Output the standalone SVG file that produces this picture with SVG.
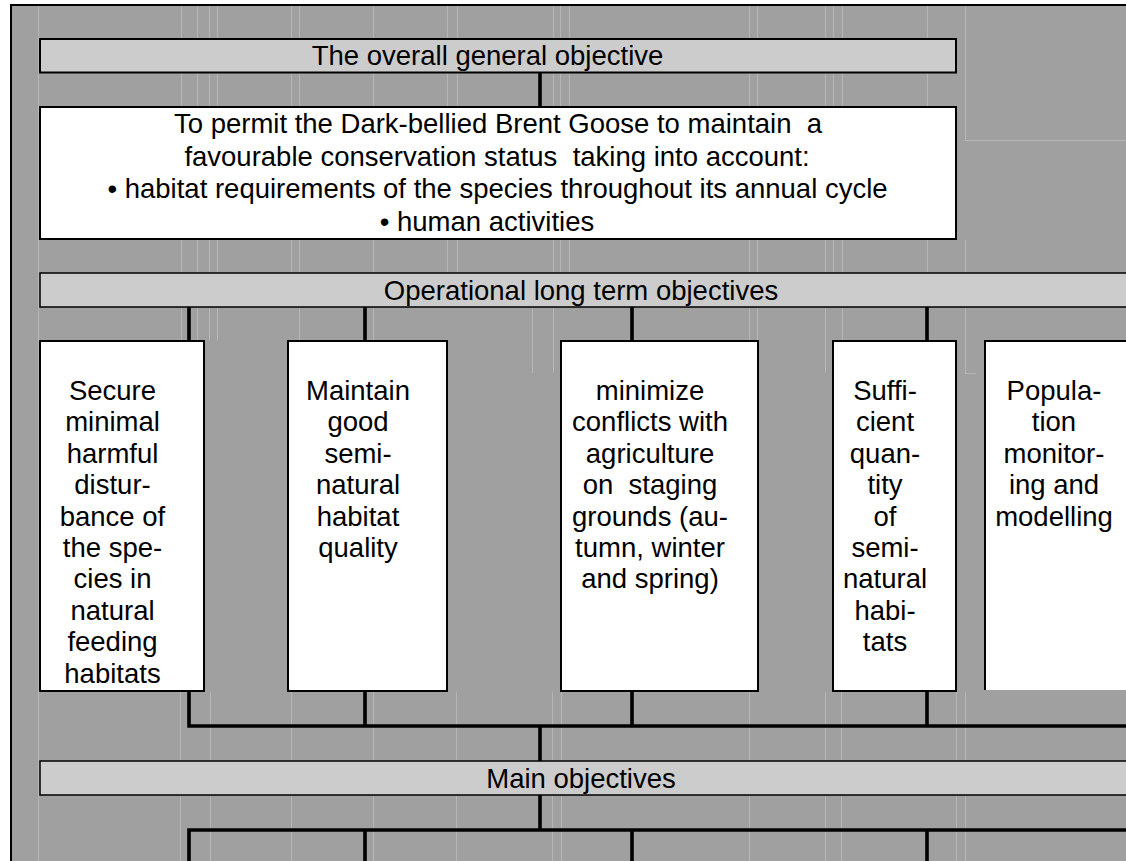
<svg xmlns="http://www.w3.org/2000/svg" width="1126" height="861" viewBox="0 0 1126 861">
<style>
.t{font-family:"Liberation Sans",Arial,sans-serif;font-size:27.5px;fill:#000;text-anchor:middle}
.bar{fill:#cccccc;stroke:#000;stroke-width:2}
.bar2{fill:#cccccc;stroke:#000;stroke-width:1.5}
.box{fill:#fff;stroke:#000;stroke-width:2}
.c{stroke:#000;stroke-width:3.6;fill:none;stroke-linejoin:miter;stroke-linecap:butt}
.g{stroke:#b6b6b6;stroke-width:1;fill:none}
</style>
<rect width="1126" height="861" fill="#fff"/>
<rect x="11" y="5" width="1115" height="856" fill="#a0a0a0"/>
<g id="gridlines">
<path class="g" d="M38.5,6 V861 M181.5,6 V39 M197.5,6 V39 M209.5,6 V39 M217.5,6 V39 M291.5,6 V39 M299.5,6 V39 M373.5,6 V39 M447.5,6 V39 M457.5,6 V39 M553.5,6 V39 M560.5,6 V39 M569.5,6 V39 M749.5,6 V39 M757.5,6 V39 M825.5,6 V39 M833.5,6 V39 M842.5,6 V39 M927.5,6 V39 M965.5,6 V140"/>
<path class="g" d="M181.5,73 V107 M197.5,73 V107 M209.5,73 V107 M217.5,73 V107 M291.5,73 V107 M299.5,73 V107 M373.5,73 V107 M447.5,73 V107 M457.5,73 V107 M553.5,73 V107 M560.5,73 V107 M569.5,73 V107 M749.5,73 V107 M757.5,73 V107 M825.5,73 V107 M833.5,73 V107 M842.5,73 V107 M927.5,73 V107 M965.5,73 V107 M965,140.5 H1126"/>
<path class="g" d="M181.5,240 V273 M197.5,240 V273 M209.5,240 V273 M217.5,240 V273 M291.5,240 V273 M299.5,240 V273 M373.5,240 V273 M447.5,240 V273 M457.5,240 V273 M553.5,240 V273 M560.5,240 V273 M569.5,240 V273 M749.5,240 V273 M757.5,240 V273 M825.5,240 V273 M833.5,240 V273 M842.5,240 V273 M927.5,240 V273 M965.5,240 V273"/>
<path class="g" d="M181.5,308 V341 M197.5,308 V341 M209.5,308 V341 M217.5,308 V341 M299.5,308 V341 M373.5,308 V341 M532.5,308 V373 M553.5,308 V373 M749.5,308 V341 M757.5,308 V341 M825.5,308 V373 M842.5,308 V341 M965.5,308 V373 M965,373.5 H976"/>
<path class="g" d="M180.5,692 V761 M210.5,692 V761 M291.5,692 V761 M373.5,692 V761 M456.5,692 V761 M552.5,692 V761 M561.5,692 V761 M749.5,692 V761 M825.5,692 V761 M841.5,692 V761 M956.5,692 V761 M965.5,692 V761"/>
<path class="g" d="M180.5,796 V861 M210.5,796 V861 M291.5,796 V861 M373.5,796 V861 M456.5,796 V861 M552.5,796 V861 M561.5,796 V861 M749.5,796 V861 M825.5,796 V861 M841.5,796 V861 M956.5,796 V861 M965.5,796 V861"/>
</g>
<path d="M11,861 V5 H1126" stroke="#000" stroke-width="2" fill="none"/>

<g id="connectors">
<path class="c" d="M540,73 V107"/>
<path class="c" d="M189,307 V341 M365,307 V341 M632,307 V341 M927,307 V341"/>
<path class="c" d="M189,691 V726 H1126 M365,691 V726 M632,691 V726 M927,691 V726"/>
<path class="c" d="M540,726 V761"/>
<path class="c" d="M540,795 V830"/>
<path class="c" d="M189,861 V830 H1126 M365,830 V861 M632,830 V861 M927,830 V861"/>
</g>

<g id="overall-objective">
<rect class="bar" x="40" y="39" width="916" height="33.5"/>
<text class="t" x="487.5" y="65">The overall general objective</text>
</g>

<g id="general-objective">
<rect class="box" x="40" y="107" width="916" height="132"/>
<text class="t" x="498" y="133">To permit the Dark-bellied Brent Goose to maintain &#160;a</text>
<text class="t" x="497" y="165.5">favourable conservation status &#160;taking into account:</text>
<text class="t" x="497.5" y="198">• habitat requirements of the species throughout its annual cycle</text>
<text class="t" x="487" y="230.5">• human activities</text>
</g>

<g id="operational-bar">
<rect class="bar2" x="40" y="273" width="1100" height="34"/>
<text class="t" x="581" y="300">Operational long term objectives</text>
</g>

<g id="op1">
<rect class="box" x="40" y="341" width="164" height="350"/>
<text class="t" x="112.5" y="400">Secure</text>
<text class="t" x="112.5" y="431.4">minimal</text>
<text class="t" x="112.5" y="462.8">harmful</text>
<text class="t" x="112.5" y="494.2">distur-</text>
<text class="t" x="112.5" y="525.6">bance of</text>
<text class="t" x="112.5" y="557">the spe-</text>
<text class="t" x="112.5" y="588.4">cies in</text>
<text class="t" x="112.5" y="619.8">natural</text>
<text class="t" x="112.5" y="651.2">feeding</text>
<text class="t" x="112.5" y="682.6">habitats</text>
</g>

<g id="op2">
<rect class="box" x="288" y="341" width="159" height="350"/>
<text class="t" x="358" y="400">Maintain</text>
<text class="t" x="358" y="431.4">good</text>
<text class="t" x="358" y="462.8">semi-</text>
<text class="t" x="358" y="494.2">natural</text>
<text class="t" x="358" y="525.6">habitat</text>
<text class="t" x="358" y="557">quality</text>
</g>

<g id="op3">
<rect class="box" x="561" y="341" width="197" height="350"/>
<text class="t" x="650" y="400">minimize</text>
<text class="t" x="650" y="431.4">conflicts with</text>
<text class="t" x="650" y="462.8">agriculture</text>
<text class="t" x="650" y="494.2">on &#160;staging</text>
<text class="t" x="650" y="525.6">grounds (au-</text>
<text class="t" x="650" y="557">tumn, winter</text>
<text class="t" x="650" y="588.4">and spring)</text>
</g>

<g id="op4">
<rect class="box" x="833" y="341" width="123" height="350"/>
<text class="t" x="885" y="400">Suffi-</text>
<text class="t" x="885" y="431.4">cient</text>
<text class="t" x="885" y="462.8">quan-</text>
<text class="t" x="885" y="494.2">tity</text>
<text class="t" x="885" y="525.6">of</text>
<text class="t" x="885" y="557">semi-</text>
<text class="t" x="885" y="588.4">natural</text>
<text class="t" x="885" y="619.8">habi-</text>
<text class="t" x="885" y="651.2">tats</text>
</g>

<g id="op5">
<rect x="985" y="341" width="150" height="349" fill="#fff"/>
<path d="M985,690 V341 H1126" stroke="#000" stroke-width="2" fill="none"/>
<text class="t" x="1054" y="400">Popula-</text>
<text class="t" x="1054" y="431.4">tion</text>
<text class="t" x="1054" y="462.8">monitor-</text>
<text class="t" x="1054" y="494.2">ing and</text>
<text class="t" x="1054" y="525.6">modelling</text>
</g>

<g id="main-bar">
<rect class="bar2" x="40" y="761" width="1100" height="34"/>
<text class="t" x="581" y="788">Main objectives</text>
</g>
</svg>
